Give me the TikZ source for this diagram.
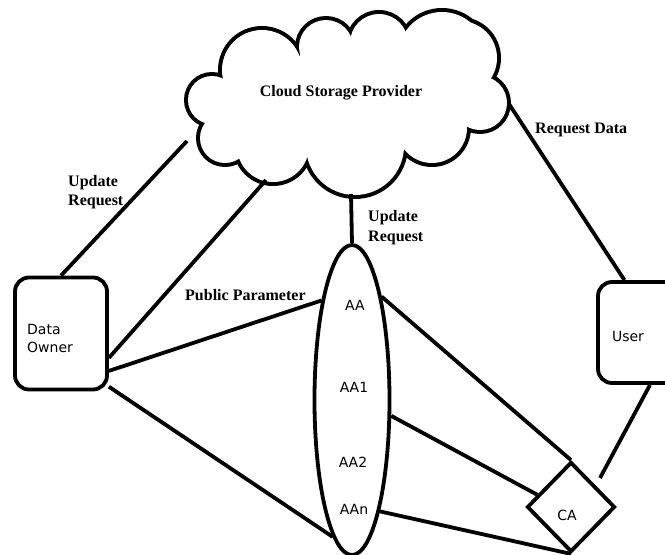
\documentclass[tikz,border=0pt]{standalone}
\usepackage{fontspec}
\setmainfont{Liberation Serif}
\newfontfamily\labsans{DejaVu Sans}
\usetikzlibrary{shapes.geometric}
\begin{document}
\begin{tikzpicture}[x=1pt,y=-1pt,
  conn/.style={line width=3.8pt},
  boxnode/.style={draw,line width=3.8pt,rounded corners=14pt,inner sep=0pt},
  lab/.style={font=\fontsize{16}{19.5}\selectfont\bfseries,inner sep=0pt,align=left},
  slab/.style={font=\labsans\fontsize{14}{18}\selectfont,inner sep=0pt},
  cloudline/.style={line width=8pt},
]
\useasboundingbox (0,0) rectangle (665,555);
% cloud outline: stroked circles, then white fills
\foreach \cx/\cy/\r in {212/100/24, 262/70/40, 326/47/27, 379/43/29, 442/56/44, 460/58/37, 480/103/27, 432/128/35, 355/146/49, 273/146/36, 225/138/25}
  \draw[cloudline] (\cx,\cy) circle[radius=\r];
\foreach \cx/\cy/\r in {212/100/24, 262/70/40, 326/47/27, 379/43/29, 442/56/44, 460/58/37, 480/103/27, 432/128/35, 355/146/49, 273/146/36, 225/138/25, 340/100/60, 400/95/45, 440/100/35, 240/110/30, 295/120/32}
  \fill[white] (\cx,\cy) circle[radius=\r];
\node[lab] (cspt) at (341,93) {Cloud Storage Provider};

% nodes
\node[boxnode, minimum width=92pt, minimum height=112pt] (owner) at (61,333.5) {};
\node[slab, anchor=west, align=left] (ownertxt) at (27,338) {Data\\Owner};
\node[boxnode, minimum width=104pt, minimum height=101pt] (user) at (650,332.5) {};
\node[slab] (usertxt) at (628,336) {User};
\node[draw, ellipse, line width=3.8pt, minimum width=75pt, minimum height=310pt, inner sep=0pt] (aa) at (352,400) {};
\node[draw, diamond, aspect=1, line width=3.8pt, minimum width=88pt, minimum height=90pt, inner sep=0pt] (ca) at (571,507) {};
\node[slab] (laa) at (355,305) {AA};
\node[slab] (laa1) at (354,387) {AA1};
\node[slab] (laa2) at (353,462) {AA2};
\node[slab] (laan) at (354,509) {AAn};
\node[slab] (lca) at (567,515) {CA};

% labels
\node[lab, anchor=west] (ur1) at (68,192) {Update\\Request};
\node[lab, anchor=west] (ur2) at (368,227.5) {Update\\Request};
\node[lab, anchor=west] (pp) at (185,295) {Public Parameter};
\node[lab, anchor=west] (rd) at (535,130) {Request Data};

% free ends
\coordinate (cl1) at (187,141);
\coordinate (cl2) at (266,180);
\coordinate (cl3) at (351,194);
\coordinate (cl4) at (509,104);
\coordinate (userend) at (600,478);

% connectors
\draw[conn] (cl1) -- (owner.north);
\draw[conn] (owner.-27) -- (cl2);
\draw[conn] (owner.-38) -- (aa.107);
\draw[conn] (owner.-48) -- (aa.262);
\draw[conn] (cl3) -- (aa.north);
\draw[conn] (aa.74) -- (ca.north);
\draw[conn] (aa.-22) -- (ca.160);
\draw[conn] (aa.-76) -- (ca.south);
\draw[conn] (user.116) -- (cl4);
\draw[conn] (user.south) -- (userend);
\end{tikzpicture}
\end{document}
